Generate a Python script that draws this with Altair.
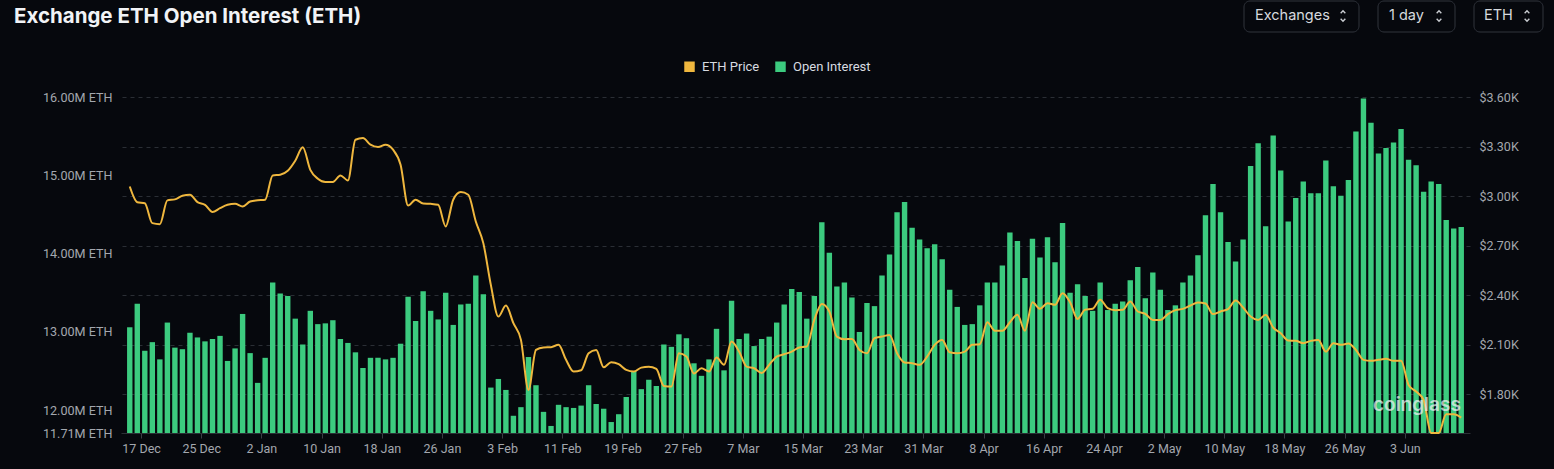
import altair as alt
import pandas as pd

# Daily exchange open interest (millions of ETH) and ETH price (USD), one value per day
FIRST_DAY = "2024-12-15"
OPEN_INTEREST_M = [
    13.06, 13.36, 12.76, 12.87, 12.65, 13.12, 12.80, 12.78, 12.99, 12.93, 12.88, 12.91, 12.95, 12.63,
    12.79, 13.23, 12.73, 12.35, 12.67, 13.63, 13.49, 13.46,
    13.17, 12.84, 13.27, 13.10, 13.11, 13.15, 12.91, 12.86, 12.74, 12.54, 12.67, 12.67, 12.65, 12.67,
    12.85, 13.45, 13.14, 13.52, 13.27, 13.16, 13.50, 13.09, 13.35,
    13.36, 13.72, 13.48, 12.29, 12.40, 12.26, 11.93, 12.04, 12.68, 12.32, 11.98, 11.80, 12.07, 12.04,
    12.03, 12.06, 12.32, 12.08, 12.02, 11.85, 11.95, 12.17,
    12.50, 12.27, 12.39, 12.31, 12.84, 12.81, 12.97, 12.92, 12.60, 12.44, 12.65, 13.04, 12.51, 13.40,
    12.91, 12.98, 12.82, 12.91, 12.94, 13.12, 13.35, 13.55, 13.51,
    13.17, 13.46, 14.40, 14.01, 13.58, 13.63, 13.44, 13.00, 13.37, 13.33, 13.72, 13.99, 14.53, 14.66,
    14.33, 14.18, 14.07, 14.12, 13.93, 13.54, 13.32, 13.09,
    13.10, 13.34, 13.63, 13.63, 13.85, 14.27, 14.16, 13.69, 14.19, 13.95, 14.21, 13.89, 14.39, 13.50,
    13.61, 13.46, 13.27, 13.63, 13.28, 13.36, 13.39, 13.66, 13.83,
    13.43, 13.76, 13.54, 13.28, 13.34, 13.63, 13.72, 13.98, 14.49, 14.89, 14.53, 14.15, 13.90, 14.18,
    15.12, 15.41, 14.35, 15.51, 15.06, 14.41, 14.71, 14.92,
    14.77, 14.77, 15.19, 14.86, 14.74, 14.94, 15.56, 15.98, 15.67, 15.28, 15.35, 15.42, 15.59, 15.20,
    15.13, 14.79, 14.92, 14.89, 14.43, 14.32, 14.34,
]
ETH_PRICE_USD = [
    3058, 2963, 2957, 2836, 2830, 2974, 2980, 3002, 3008, 2963, 2947, 2903, 2927, 2947, 2953, 2937,
    2967, 2974, 2978, 3125, 3129, 3153,
    3214, 3295, 3159, 3105, 3085, 3085, 3125, 3095, 3341, 3351, 3311, 3297, 3311, 3281, 3190, 2943,
    2978, 2955, 2953, 2947, 2816, 2978, 3024,
    3008, 2846, 2715, 2462, 2270, 2337, 2230, 2129, 1826, 2068, 2083, 2085, 2099, 2008, 1937, 1945,
    2048, 2068, 1963, 1994, 1982, 1947,
    1937, 1961, 1967, 1953, 1850, 1846, 2048, 2028, 1925, 1957, 1937, 2022, 1978, 2119, 2058, 1967,
    1957, 1929, 1978, 2028, 2042, 2058, 2083,
    2089, 2250, 2347, 2301, 2149, 2133, 2135, 2068, 2048, 2139, 2149, 2159, 2048, 1992, 1988, 1978,
    2028, 2099, 2129, 2054, 2048, 2058,
    2099, 2103, 2236, 2184, 2184, 2236, 2281, 2184, 2357, 2317, 2351, 2341, 2412, 2357, 2256, 2311,
    2317, 2372, 2321, 2309, 2311, 2361, 2301,
    2287, 2250, 2250, 2285, 2309, 2317, 2337, 2355, 2349, 2285, 2301, 2315, 2367, 2325, 2270, 2250,
    2281, 2204, 2169, 2125, 2123, 2109,
    2123, 2129, 2058, 2109, 2099, 2107, 2068, 2008, 2002, 2008, 2014, 2002, 2002, 1856, 1816, 1765,
    1565, 1565, 1678, 1678, 1658,
]

SERIES = ["ETH Price", "Open Interest"]
SERIES_COLORS = ["#EFB73E", "#3CCB7F"]

OI_TICKS = [11.71, 12, 13, 14, 15, 16]
PRICE_TICKS = [1800, 2100, 2400, 2700, 3000, 3300, 3600]
X_TICK_DAYS = pd.date_range("2024-12-17", "2025-06-03", freq="8D")

BG = "#06080D"
LABEL_GREY = "#A3A7AE"
FONT = "Roboto"

days = pd.date_range(FIRST_DAY, periods=len(OPEN_INTEREST_M), freq="D")
df = pd.DataFrame({
    "day": days + pd.Timedelta(hours=12),   # each daily bar sits in the middle of its day
    "oi": OPEN_INTEREST_M,
    "price": ETH_PRICE_USD,
    "series": "Open Interest",
})

def dt(ts):
    return alt.DateTime(year=ts.year, month=ts.month, date=ts.day)

x_enc = alt.X(
    "day:T",
    title=None,
    scale=alt.Scale(domain=[dt(days[0]), dt(days[-1] + pd.Timedelta(days=1))]),
    axis=alt.Axis(
        values=[dt(d) for d in X_TICK_DAYS],
        format="%-d %b",
        grid=False,
        domainColor="#2C3036",
        tickColor="#3A3E45",
        tickSize=5,
        labelPadding=4,
        labelColor=LABEL_GREY,
        labelFont=FONT,
        labelFontSize=12.5,
    ),
)

base = alt.Chart(df)

bars = base.mark_bar(size=5.4).encode(
    x=x_enc,
    y=alt.Y(
        "oi:Q",
        title=None,
        scale=alt.Scale(domain=[OI_TICKS[0], OI_TICKS[-1]], zero=False, nice=False),
        axis=alt.Axis(
            orient="left",
            values=OI_TICKS,
            labelExpr="format(datum.value, '.2f') + 'M ETH'",
            grid=False,
            domain=False,
            ticks=False,
            labelPadding=9,
            labelColor=LABEL_GREY,
            labelFont=FONT,
            labelFontSize=12.6,
        ),
    ),
    y2=alt.datum(OI_TICKS[0]),
    color=alt.Color(
        "series:N",
        scale=alt.Scale(domain=SERIES, range=SERIES_COLORS),
        legend=alt.Legend(
            title=None,
            orient="none",
            direction="horizontal",
            legendX=562,
            legendY=-37,
            symbolType="square",
            symbolSize=110,
            symbolStrokeWidth=0,
            labelColor="#D8DBE0",
            labelFont=FONT,
            labelFontSize=13,
            labelOffset=6,
            columnPadding=14,
            padding=0,
        ),
    ),
)

price_line = base.mark_line(interpolate="monotone", strokeWidth=2, color=SERIES_COLORS[0]).encode(
    x=x_enc,
    y=alt.Y(
        "price:Q",
        title=None,
        scale=alt.Scale(domain=[1565, 3600], zero=False, nice=False),
        axis=alt.Axis(
            orient="right",
            values=PRICE_TICKS,
            labelExpr="'$' + format(datum.value / 1000, '.2f') + 'K'",
            grid=True,
            gridColor="#2A2E35",
            gridDash=[4, 4],
            domain=False,
            ticks=False,
            labelPadding=9,
            labelColor=LABEL_GREY,
            labelFont=FONT,
            labelFontSize=12.5,
        ),
    ),
)

one_row = alt.InlineData(values=[{}])

title = alt.Chart(one_row).mark_text(
    text="Exchange ETH Open Interest (ETH)",
    align="left", baseline="middle",
    font="Inter", fontSize=20.5, fontWeight="bold", color="#F1F3F6",
).encode(x=alt.value(-107), y=alt.value(-80))

# small up/down chevrons drawn as open paths
CHEVRON_UP = "M -1 0.5 L 0 -0.5 L 1 0.5"
CHEVRON_DOWN = "M -1 -0.5 L 0 0.5 L 1 -0.5"


def selector(label, left, right, text_left):
    box = alt.Chart(one_row).mark_rect(
        cornerRadius=6, stroke="#30343C", strokeWidth=1, fill=BG,
    ).encode(x=alt.value(left), x2=alt.value(right), y=alt.value(-96), y2=alt.value(-65))
    txt = alt.Chart(one_row).mark_text(
        text=label, align="left", baseline="middle",
        font="Inter", fontSize=14.5, color="#D6D9DE",
    ).encode(x=alt.value(text_left), y=alt.value(-81))
    up = alt.Chart(one_row).mark_point(
        shape=CHEVRON_UP, size=22, filled=False, stroke="#C9CCD1", strokeWidth=1.4, opacity=1,
    ).encode(x=alt.value(right - 16), y=alt.value(-85))
    down = alt.Chart(one_row).mark_point(
        shape=CHEVRON_DOWN, size=22, filled=False, stroke="#C9CCD1", strokeWidth=1.4, opacity=1,
    ).encode(x=alt.value(right - 16), y=alt.value(-77))
    return box + txt + up + down


selectors = (
    selector("Exchanges", 1123, 1238, 1134)
    + selector("1 day", 1257, 1334, 1268)
    + selector("ETH", 1353, 1422, 1363)
)

watermark = alt.Chart(one_row).mark_text(
    text="coinglass", align="left", baseline="middle",
    font="Inter", fontSize=19, fontWeight=600, color="#EEF0F2", opacity=0.72,
).encode(x=alt.value(1252), y=alt.value(308))

chart = (
    alt.layer(bars, price_line)
    .resolve_scale(y="independent")
    .properties(width=1349, height=336)
)

chart = (
    alt.layer(chart, watermark, title, selectors)
    .properties(
        width=1349,
        height=336,
        padding={"left": 121, "top": 97, "right": 84, "bottom": 36},
        autosize=alt.AutoSizeParams(type="none"),
        background=BG,
    )
    .configure_view(stroke=None)
)

chart.save("out.html", embed_options={"renderer": "svg", "actions": False})
